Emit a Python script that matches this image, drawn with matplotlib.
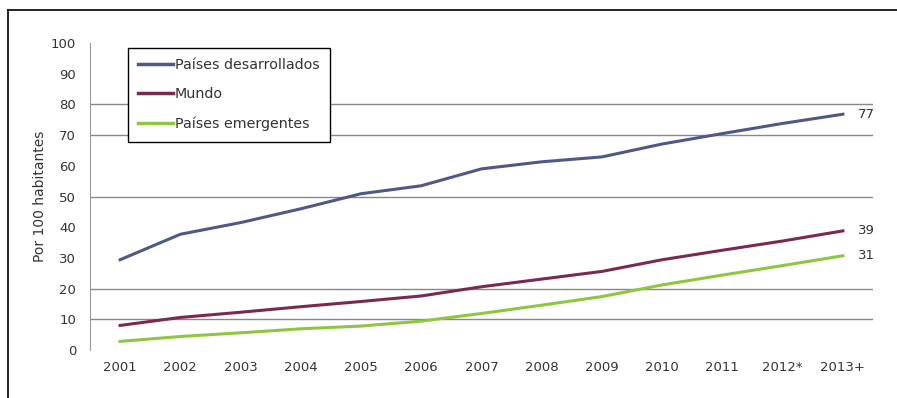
import numpy as np
import matplotlib.pyplot as plt
from matplotlib.lines import Line2D

# Usuarios de Internet por cada 100 habitantes
anios = ["2001", "2002", "2003", "2004", "2005", "2006", "2007",
         "2008", "2009", "2010", "2011", "2012*", "2013+"]
desarrollados = [29.4, 37.7, 41.5, 46.0, 50.9, 53.5, 59.0, 61.3, 62.9, 67.1, 70.5, 73.8, 76.8]
mundo = [8.0, 10.6, 12.3, 14.1, 15.8, 17.6, 20.6, 23.1, 25.6, 29.4, 32.5, 35.5, 38.8]
emergentes = [2.8, 4.4, 5.6, 6.9, 7.8, 9.4, 11.9, 14.6, 17.4, 21.2, 24.4, 27.5, 30.7]
etiquetas_finales = ["77", "39", "31"]
lineas_grilla = [10, 20, 50, 70, 80]

c_des = "#4e5a85"
c_mun = "#7a2a50"
c_emg = "#8fc640"
c_txt = "#333333"

fig = plt.figure(figsize=(8.97, 3.98), dpi=100)
ax = fig.add_axes([90 / 897, 1 - 350 / 398, 783 / 897, 307 / 398])

x = np.arange(len(anios))
for y in lineas_grilla:
    ax.axhline(y, color="#888888", lw=1.0, zorder=1)

ax.plot(x, desarrollados, color=c_des, lw=2.2, zorder=3)
ax.plot(x, mundo, color=c_mun, lw=2.2, zorder=3)
ax.plot(x, emergentes, color=c_emg, lw=2.2, zorder=3)

for serie, etiqueta in zip([desarrollados, mundo, emergentes], etiquetas_finales):
    ax.annotate(etiqueta, (x[-1], serie[-1]), xytext=(11, 0), textcoords="offset points",
                va="center", ha="left", fontsize=9.5, color=c_txt)

ax.set_xlim(-0.5, len(anios) - 0.5)
ax.set_ylim(0, 100)
ax.set_yticks(range(0, 101, 10))
ax.set_xticks(x)
ax.set_xticklabels(anios)
ax.tick_params(axis="y", length=0, pad=10, labelsize=9.5, labelcolor=c_txt)
ax.tick_params(axis="x", length=0, pad=8, labelsize=9.5, labelcolor=c_txt)
for lado in ["top", "right", "bottom"]:
    ax.spines[lado].set_visible(False)
ax.spines["left"].set_color("#999999")
ax.set_ylabel("Por 100 habitantes", fontsize=10, color=c_txt, labelpad=3)

manejadores = [Line2D([], [], color=c_des, lw=2.5),
               Line2D([], [], color=c_mun, lw=2.5),
               Line2D([], [], color=c_emg, lw=2.5)]
leg = ax.legend(manejadores, ["Países desarrollados", "Mundo", "Países emergentes"],
                loc="upper left", bbox_to_anchor=(0.048, 0.985), fontsize=10.3,
                frameon=True, fancybox=False, edgecolor="black", framealpha=1,
                handlelength=2.4, handletextpad=0.15, labelspacing=1.05,
                borderpad=0.75, borderaxespad=0)
leg.get_frame().set_linewidth(1.0)
leg.set_zorder(5)
for t in leg.get_texts():
    t.set_color(c_txt)

# Marco exterior
fig.add_artist(Line2D([8 / 897, 1], [1 - 10 / 398] * 2, color="black", lw=1.2))
fig.add_artist(Line2D([8 / 897] * 2, [0, 1 - 10 / 398], color="black", lw=1.2))

fig.savefig("out.png", dpi=100)
